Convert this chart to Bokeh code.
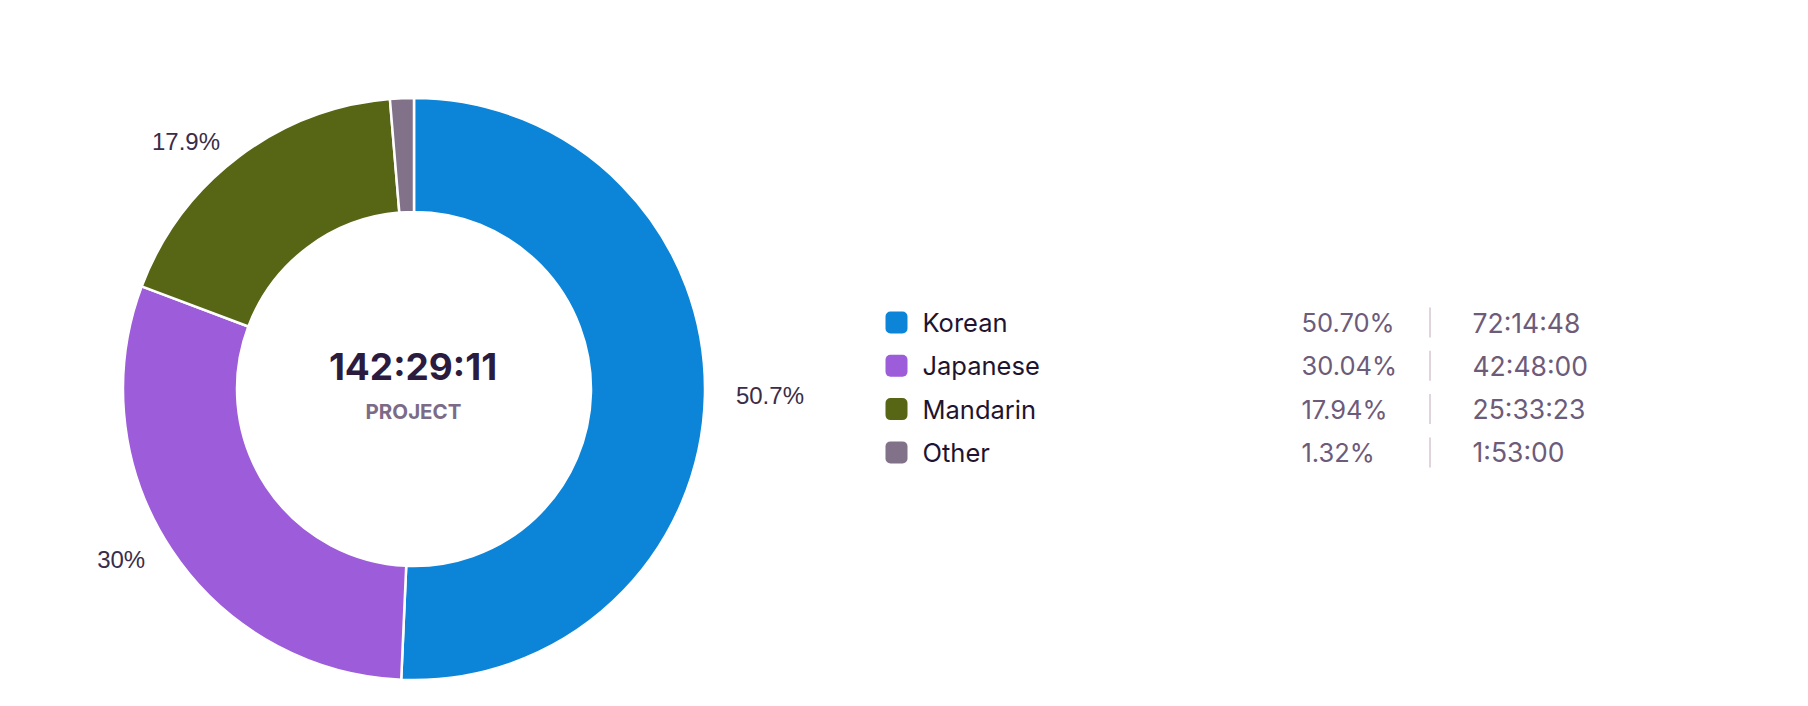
import numpy as np
from bokeh.plotting import figure
from bokeh.models import Range1d, ColumnDataSource
from bokeh.core.properties import value
from bokeh.embed import file_html
from bokeh.resources import INLINE

# ---- data ----
languages = ["Korean", "Japanese", "Mandarin", "Other"]
shares = [50.70, 30.04, 17.94, 1.32]
share_labels = ["50.70%", "30.04%", "17.94%", "1.32%"]
durations = ["72:14:48", "42:48:00", "25:33:23", "1:53:00"]
slice_labels = ["50.7%", "30%", "17.9%", ""]
colors = ["#0c85d9", "#9d5cd9", "#566615", "#817189"]
total_label = "142:29:11"
center_caption = "PROJECT"

# ---- figure in page-pixel coordinates (y negated) ----
W, H = 1792, 690
p = figure(width=W, height=H, x_range=Range1d(0, W), y_range=Range1d(-H, 0),
           output_backend="svg", toolbar_location=None, min_border=0)
p.axis.visible = False
p.grid.visible = False
p.outline_line_color = None
p.background_fill_color = "white"
p.border_fill_color = "white"

cx, cy = 413.5, -388.5
frac = np.array(shares) / np.sum(shares)
cum = np.concatenate([[0.0], np.cumsum(frac)])
th0 = cum[:-1] * 2 * np.pi
th1 = cum[1:] * 2 * np.pi
src = ColumnDataSource(dict(start=np.pi / 2 - th1, end=np.pi / 2 - th0, color=colors))
p.annular_wedge(x=cx, y=cy, inner_radius=177, outer_radius=291,
                start_angle="start", end_angle="end", fill_color="color",
                line_color="white", line_width=2.5, source=src)

# slice labels
mid = (th0 + th1) / 2
lx = cx + np.sin(mid) * 322
ly = cy + np.cos(mid) * 310
align = ["left" if s > 0 else "right" for s in np.sin(mid)]
lab_src = ColumnDataSource(dict(x=lx, y=ly, t=slice_labels, a=align))
p.text(x="x", y="y", text="t", text_align="a", text_baseline="middle",
       text_font=value("Liberation Sans"), text_font_size="24px",
       text_color="#3a2d48", source=lab_src)

# center texts
p.text(x=[cx - 1], y=[-366], text=[total_label], text_align="center", text_baseline="middle",
       text_font=value("Inter"), text_font_style="bold", text_font_size="37px",
       text_color="#2b1b3e")
p.text(x=[cx - 0.5], y=[-411], text=[center_caption], text_align="center", text_baseline="middle",
       text_font=value("Inter"), text_font_style="bold", text_font_size="20.5px",
       text_color="#7b6b88")

# legend table
rows = [-(322 + 43.3 * i) for i in range(len(languages))]
p.rect(x=[896] * len(rows), y=rows, width=22, height=22, fill_color=colors,
       line_color=None, border_radius=5)
p.text(x=[922] * len(rows), y=rows, text=languages, text_baseline="middle",
       text_font=value("Inter"), text_font_size="25.5px", text_color="#1f1430")
p.text(x=[1301] * len(rows), y=rows, text=share_labels, text_baseline="middle",
       text_font=value("Inter"), text_font_size="25.5px", text_color="#6d5b7a")
p.segment(x0=[1429.5] * len(rows), y0=[r - 15 for r in rows],
          x1=[1429.5] * len(rows), y1=[r + 15 for r in rows],
          line_color="#e0d4de", line_width=2)
p.text(x=[1472] * len(rows), y=rows, text=durations, text_baseline="middle",
       text_font=value("Inter"), text_font_size="26.5px", text_color="#6d5b7a")

open("out.html", "w").write(file_html(p, INLINE))
